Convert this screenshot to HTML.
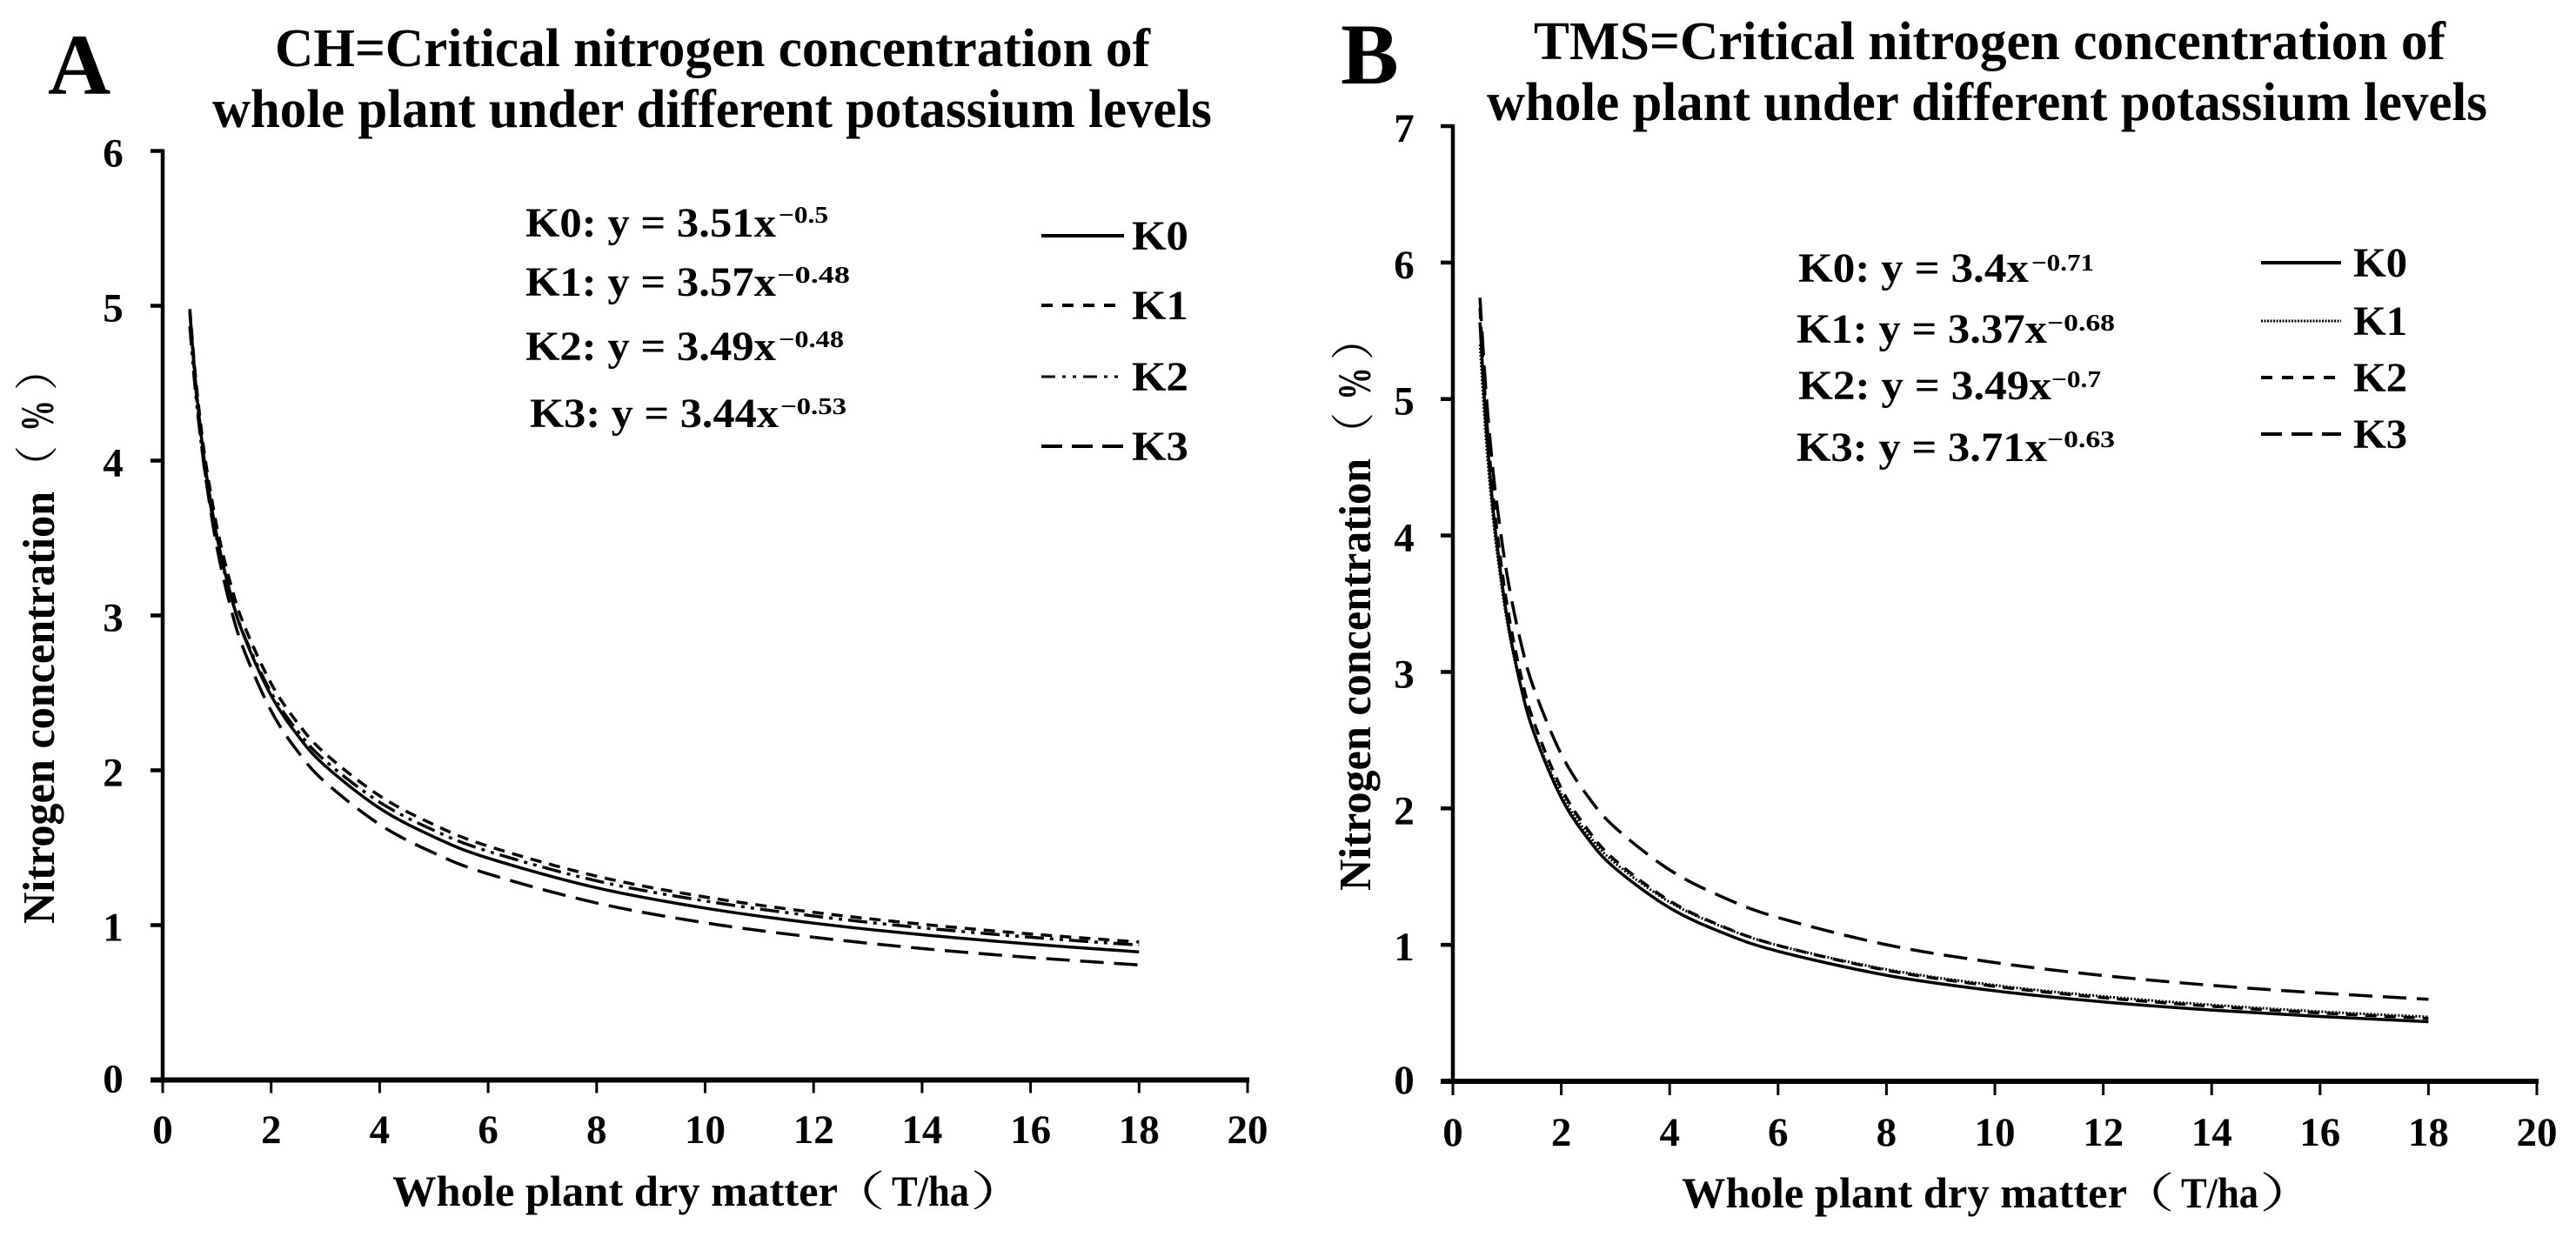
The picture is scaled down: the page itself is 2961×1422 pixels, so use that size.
<!DOCTYPE html>
<html>
<head>
<meta charset="utf-8">
<title>Critical nitrogen concentration curves</title>
<style>
html,body{margin:0;padding:0;background:#fff;}
svg{display:block;}
text{font-family:"Liberation Serif","Noto Serif CJK SC",serif;font-weight:bold;fill:#000;}
text.paren{font-weight:normal;}
</style>
</head>
<body>
<svg id="fig" xmlns="http://www.w3.org/2000/svg" width="2961" height="1422" viewBox="0 0 2961 1422">
<rect x="0" y="0" width="2961" height="1422" fill="#fff"/>

<g>
<text x="55" y="108" font-size="100">A</text>
<text x="316" y="76" font-size="62" textLength="1006" lengthAdjust="spacingAndGlyphs">CH=Critical nitrogen concentration of</text>
<text x="244" y="146" font-size="62" textLength="1149" lengthAdjust="spacingAndGlyphs">whole plant under different potassium levels</text>
<g>
<text x="451" y="1386" font-size="50" textLength="512" lengthAdjust="spacingAndGlyphs">Whole plant dry matter</text>
<text class="paren" x="948" y="1386" font-size="48" textLength="70" lengthAdjust="spacingAndGlyphs">（</text>
<text x="1025" y="1386" font-size="50" textLength="89" lengthAdjust="spacingAndGlyphs">T/ha</text>
<text class="paren" x="1115" y="1386" font-size="48" textLength="70" lengthAdjust="spacingAndGlyphs">）</text>
</g>
<g>
<text transform="translate(62 1062) rotate(-90)" font-size="52" textLength="497" lengthAdjust="spacingAndGlyphs">Nitrogen concentration</text>
<text class="paren" transform="translate(60 562) rotate(-90)" font-size="50">（</text>
<text transform="translate(61 496) rotate(-90)" font-size="54" textLength="36" lengthAdjust="spacingAndGlyphs">%</text>
<text class="paren" transform="translate(60 449) rotate(-90)" font-size="50">）</text>
</g>
<text x="604" y="272" font-size="48" textLength="288" lengthAdjust="spacingAndGlyphs">K0: y = 3.51x</text>
<text x="895" y="256" font-size="27" textLength="57" lengthAdjust="spacingAndGlyphs">−0.5</text>
<text x="604" y="340" font-size="48" textLength="288" lengthAdjust="spacingAndGlyphs">K1: y = 3.57x</text>
<text x="893" y="325" font-size="27" textLength="84" lengthAdjust="spacingAndGlyphs">−0.48</text>
<text x="604" y="414" font-size="48" textLength="288" lengthAdjust="spacingAndGlyphs">K2: y = 3.49x</text>
<text x="895" y="399" font-size="27" textLength="75" lengthAdjust="spacingAndGlyphs">−0.48</text>
<text x="609" y="491" font-size="48" textLength="286" lengthAdjust="spacingAndGlyphs">K3: y = 3.44x</text>
<text x="897" y="476" font-size="27" textLength="76" lengthAdjust="spacingAndGlyphs">−0.53</text>
</g>

<g>
<text x="1541" y="96" font-size="100">B</text>
<text x="1763" y="68" font-size="62" textLength="1048" lengthAdjust="spacingAndGlyphs">TMS=Critical nitrogen concentration of</text>
<text x="1709" y="138" font-size="62" textLength="1150" lengthAdjust="spacingAndGlyphs">whole plant under different potassium levels</text>
<g>
<text x="1933" y="1388" font-size="50" textLength="512" lengthAdjust="spacingAndGlyphs">Whole plant dry matter</text>
<text class="paren" x="2430" y="1388" font-size="48" textLength="70" lengthAdjust="spacingAndGlyphs">（</text>
<text x="2507" y="1388" font-size="50" textLength="89" lengthAdjust="spacingAndGlyphs">T/ha</text>
<text class="paren" x="2597" y="1388" font-size="48" textLength="70" lengthAdjust="spacingAndGlyphs">）</text>
</g>
<g>
<text transform="translate(1575 1024) rotate(-90)" font-size="52" textLength="497" lengthAdjust="spacingAndGlyphs">Nitrogen concentration</text>
<text class="paren" transform="translate(1573 524) rotate(-90)" font-size="50">（</text>
<text transform="translate(1575 460) rotate(-90)" font-size="54" textLength="38" lengthAdjust="spacingAndGlyphs">%</text>
<text class="paren" transform="translate(1573 414) rotate(-90)" font-size="50">）</text>
</g>
<text x="2067" y="324" font-size="48" textLength="265" lengthAdjust="spacingAndGlyphs">K0: y = 3.4x</text>
<text x="2335" y="311" font-size="27" textLength="72" lengthAdjust="spacingAndGlyphs">−0.71</text>
<text x="2065" y="394" font-size="48" textLength="288" lengthAdjust="spacingAndGlyphs">K1: y = 3.37x</text>
<text x="2353" y="380" font-size="27" textLength="78" lengthAdjust="spacingAndGlyphs">−0.68</text>
<text x="2067" y="459" font-size="48" textLength="291" lengthAdjust="spacingAndGlyphs">K2: y = 3.49x</text>
<text x="2358" y="445" font-size="27" textLength="57" lengthAdjust="spacingAndGlyphs">−0.7</text>
<text x="2065" y="530" font-size="48" textLength="288" lengthAdjust="spacingAndGlyphs">K3: y = 3.71x</text>
<text x="2353" y="514" font-size="27" textLength="78" lengthAdjust="spacingAndGlyphs">−0.63</text>
</g>

<g id="panel-a"></g>
<g id="panel-b"></g>
</svg>

<script>
// Shared x sample positions (T/ha) and axis tick labels
const dryMatter = [0.5,0.6,0.7,0.8,1,1.25,1.5,2,2.5,3,4,5,6,8,10,12,14,16,18];
const xTicks = [0,2,4,6,8,10,12,14,16,18,20];
const yTicksA = [0,1,2,3,4,5,6];
const yTicksB = [0,1,2,3,4,5,6,7];
const seriesNames = ['K0','K1','K2','K3'];

// Panel A: nitrogen concentration (%)
const a_K0 = [4.964,4.531,4.195,3.924,3.51,3.139,2.866,2.482,2.220,2.027,1.755,1.570,1.433,1.241,1.110,1.013,0.938,0.878,0.827];
const a_K1 = [4.979,4.562,4.237,3.973,3.57,3.207,2.939,2.560,2.300,2.107,1.835,1.649,1.510,1.316,1.182,1.083,1.006,0.943,0.891];
const a_K2 = [4.867,4.460,4.142,3.884,3.49,3.135,2.873,2.502,2.248,2.060,1.794,1.612,1.477,1.286,1.156,1.059,0.983,0.922,0.871];
const a_K3 = [4.967,4.510,4.156,3.872,3.44,3.056,2.775,2.383,2.117,1.922,1.650,1.466,1.331,1.143,1.015,0.922,0.849,0.791,0.743];

// Panel B: nitrogen concentration (%)
const b_K0 = [5.562,4.886,4.380,3.983,3.40,2.902,2.549,2.078,1.774,1.559,1.271,1.085,0.953,0.777,0.663,0.582,0.522,0.475,0.437];
const b_K1 = [5.399,4.770,4.295,3.922,3.37,2.896,2.558,2.104,1.807,1.597,1.313,1.128,0.996,0.820,0.704,0.622,0.560,0.511,0.472];
const b_K2 = [5.669,4.990,4.480,4.080,3.49,2.985,2.627,2.148,1.838,1.618,1.322,1.131,0.996,0.814,0.696,0.613,0.550,0.501,0.461];
const b_K3 = [5.742,5.118,4.645,4.270,3.71,3.223,2.873,2.397,2.083,1.857,1.549,1.346,1.200,1.001,0.870,0.775,0.703,0.647,0.601];

const NS = 'http://www.w3.org/2000/svg';

function shape(parent, tag, attrs){
  const el = document.createElementNS(NS, tag);
  for (const k in attrs) el.setAttribute(k, attrs[k]);
  parent.appendChild(el);
  return el;
}

function smoothPath(pts){
  let d = 'M' + pts[0][0].toFixed(2) + ' ' + pts[0][1].toFixed(2);
  for (let i = 0; i < pts.length - 1; i++){
    const p0 = pts[Math.max(i-1,0)], p1 = pts[i], p2 = pts[i+1], p3 = pts[Math.min(i+2,pts.length-1)];
    const c1x = p1[0] + (p2[0]-p0[0])/6, c1y = p1[1] + (p2[1]-p0[1])/6;
    const c2x = p2[0] - (p3[0]-p1[0])/6, c2y = p2[1] - (p3[1]-p1[1])/6;
    d += 'C' + c1x.toFixed(2) + ' ' + c1y.toFixed(2) + ' ' + c2x.toFixed(2) + ' ' + c2y.toFixed(2) + ' ' + p2[0].toFixed(2) + ' ' + p2[1].toFixed(2);
  }
  return d;
}

function drawPanel(cfg){
  const g = document.getElementById(cfg.id);
  const xScale = v => cfg.x0 + (v / 20) * (cfg.x1 - cfg.x0);
  const yScale = v => cfg.y0 - (v / cfg.yMax) * (cfg.y0 - cfg.yTop);
  let el;

  // series
  cfg.series.forEach((vals, i) => {
    const pts = vals.map((v, j) => [xScale(dryMatter[j]), yScale(v)]);
    el = shape(g, 'path', {d: smoothPath(pts), fill: 'none', stroke: '#000', 'stroke-width': cfg.widths[i], 'stroke-dasharray': cfg.dashes[i]});
    
    
  });

  // y axis
  el = shape(g, 'line', {x1: cfg.x0, x2: cfg.x0, y1: cfg.yTop - 2, y2: cfg.y0, stroke: '#000', 'stroke-width': 4.5});
  
  

  // x axis
  el = shape(g, 'line', {x1: cfg.x0 - 14, x2: cfg.x1 + 2, y1: cfg.y0, y2: cfg.y0, stroke: '#000', 'stroke-width': 6});
  
  

  cfg.yTicks.forEach(v => {
    if (v > 0){
      el = shape(g, 'line', {x1: cfg.x0 - 14, x2: cfg.x0, y1: yScale(v), y2: yScale(v), stroke: '#000', 'stroke-width': 4.5});
      
      
    }
    el = shape(g, 'text', {x: cfg.yLabelX, y: yScale(v) + (v === 0 ? 14 : 18), 'font-size': 47, 'text-anchor': 'middle'});
    el.textContent = v;
    
    
  });

  xTicks.forEach(v => {
    el = shape(g, 'line', {x1: xScale(v), x2: xScale(v), y1: cfg.y0, y2: cfg.y0 + cfg.tickLen, stroke: '#000', 'stroke-width': 3});
    
    
    el = shape(g, 'text', {x: xScale(v), y: cfg.xLabelY, 'font-size': 47, 'text-anchor': 'middle'});
    el.textContent = v;
    
    
  });

  // legend
  seriesNames.forEach((name, i) => {
    const ly = cfg.legendY[i];
    el = shape(g, 'line', {x1: cfg.legendX0, x2: cfg.legendX1, y1: ly, y2: ly, stroke: '#000', 'stroke-width': cfg.legendWidths[i], 'stroke-dasharray': cfg.legendDashes[i]});
    
    
    el = shape(g, 'text', {x: cfg.legendTextX, y: ly + 16, 'font-size': 48, textLength: cfg.legendTextW, lengthAdjust: 'spacingAndGlyphs'});
    el.textContent = name;
    
    
  });
}

drawPanel({
  id: 'panel-a', prefix: 'panel-a',
  x0: 187, x1: 1434, y0: 1241.5, yTop: 173.5, yMax: 6,
  yTicks: yTicksA, yLabelX: 130, xLabelY: 1314, tickLen: 15,
  series: [a_K0, a_K1, a_K2, a_K3],
  widths: [3.5, 3.5, 3.5, 3.5],
  dashes: ['none', '13 9', '22 7 4 7 4 7', '27 12'],
  legendX0: 1197, legendX1: 1292, legendY: [271, 351, 433, 513],
  legendWidths: [4, 4, 3, 4],
  legendDashes: ['none', '13 11', '16 8 4 8 4 8', '24 11'],
  legendTextX: 1301, legendTextW: 65
});

drawPanel({
  id: 'panel-b', prefix: 'panel-b',
  x0: 1670, x1: 2916, y0: 1243, yTop: 145, yMax: 7,
  yTicks: yTicksB, yLabelX: 1614, xLabelY: 1317, tickLen: 16,
  series: [b_K0, b_K1, b_K2, b_K3],
  widths: [3.5, 3, 3.5, 3.5],
  dashes: ['none', '2 2', '13 9', '27 12'],
  legendX0: 2599, legendX1: 2691, legendY: [302, 369, 434, 499],
  legendWidths: [4, 3, 4, 4],
  legendDashes: ['none', '2 1.5', '13 11', '24 11'],
  legendTextX: 2705, legendTextW: 62
});
</script>
</body>
</html>
